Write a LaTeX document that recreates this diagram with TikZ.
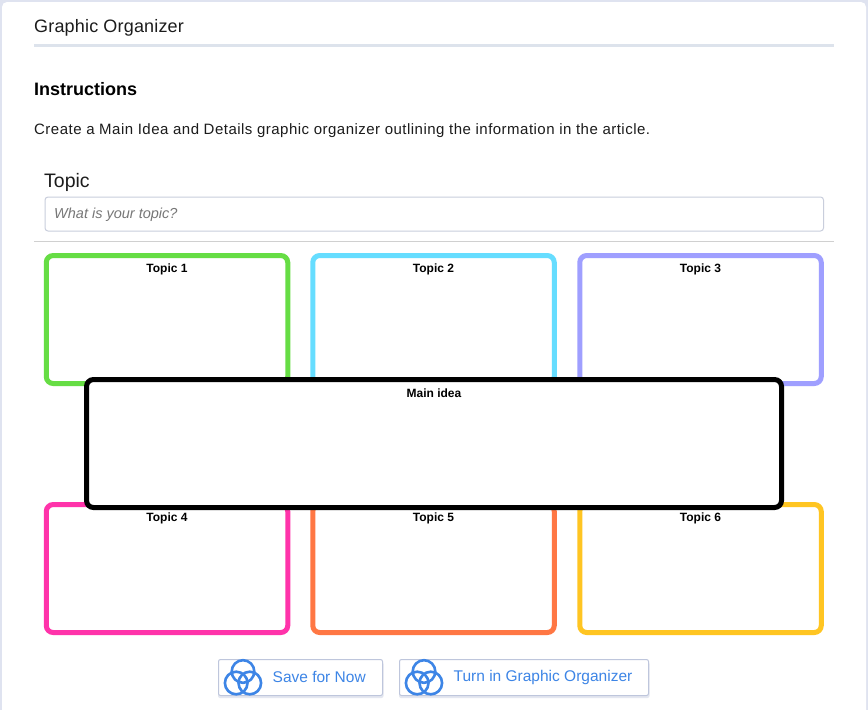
\documentclass[tikz,border=0pt]{standalone}
\usepackage{fontspec}
\setmainfont{Liberation Sans}
\newfontfamily\widerfont[LetterSpace=3.2]{Liberation Sans}
\newfontfamily\titlefont[LetterSpace=1.0]{Liberation Sans}
\usetikzlibrary{positioning}
\definecolor{pageedge}{HTML}{DFE3F0}
\definecolor{headrule}{HTML}{DDE3EC}
\definecolor{fieldedge}{HTML}{C9CEDC}
\definecolor{divider}{HTML}{D0D0D0}
\definecolor{btnblue}{HTML}{3D85E6}
\definecolor{btnedge}{HTML}{BEC6DC}
\definecolor{btnshade}{HTML}{E4E7F0}
\definecolor{hint}{HTML}{777777}
\definecolor{inktext}{HTML}{1C1C1C}
\definecolor{topicA}{HTML}{66DD44}
\definecolor{topicB}{HTML}{66DDFF}
\definecolor{topicC}{HTML}{9F9FFF}
\definecolor{topicD}{HTML}{FF33AA}
\definecolor{topicE}{HTML}{FF7744}
\definecolor{topicF}{HTML}{FFC522}
\tikzset{
  plain/.style={inner sep=0pt,anchor=west,text=inktext},
  topicbox/.style={draw=#1,line width=5pt,fill=white,rounded corners=7pt,
    minimum width=241.5pt,minimum height=128pt},
  boxlabel/.style={inner sep=0pt,font=\fontsize{12}{14}\selectfont\bfseries,text=black},
  btnbox/.style={draw=btnedge,line width=1pt,fill=white,rounded corners=2pt,
    minimum height=36pt},
  btnlabel/.style={inner sep=0pt,anchor=west,text=btnblue,font=\fontsize{15.5}{18}\selectfont},
  ringline/.style={draw=btnblue,line width=2.6pt}
}
\begin{document}
\begin{tikzpicture}[x=1pt,y=-1pt]
\useasboundingbox (0,0) rectangle (868,710);
\fill[pageedge] (0,0) rectangle (868,710);
\fill[white,rounded corners=5pt] (2,2) rectangle (866,730);

% header
\node[plain,font=\fontsize{18}{22}\selectfont\titlefont] (title) at (34,27.5) {Graphic Organizer};
\fill[headrule] (34,44) rectangle (834,47);
\node[plain,font=\fontsize{18}{22}\selectfont\bfseries,text=black] (instr) at (34,89) {Instructions};
\node[plain,font=\fontsize{15}{18}\selectfont\widerfont] (desc) at (34,130.5) {Create a Main Idea and Details graphic organizer outlining the information in the article.};

% topic field
\node[plain,font=\fontsize{19.5}{22}\selectfont] (topichead) at (44,182.5) {Topic};
\node[draw=fieldedge,line width=1pt,fill=white,rounded corners=3pt,minimum width=778.5pt,
  minimum height=34pt,anchor=north west] (field) at (44.5,196.5) {};
\node[plain,font=\fontsize{14.5}{18}\selectfont\itshape,text=hint] (hinttext) at (54,214.5) {What is your topic?};
\fill[divider] (34,241) rectangle (834,242);

% topic boxes
\foreach \name/\col/\cx/\cy in {
  one/topicA/167/319.5,
  two/topicB/433.5/319.5,
  three/topicC/700.5/319.5,
  four/topicD/167/568.5,
  five/topicE/433.5/568.5,
  six/topicF/700.5/568.5} {
  \node[topicbox=\col] (\name) at (\cx,\cy) {};
}
\node[topicbox=black,minimum width=695pt] (main) at (434,443.5) {};
\foreach \name/\txt in {one/Topic 1,two/Topic 2,three/Topic 3,four/Topic 4,five/Topic 5,six/Topic 6,main/Main idea} {
  \node[boxlabel] (\name label) at ([yshift=-16pt]\name.north) {\txt};
}

% buttons
\fill[btnshade,rounded corners=2pt] (218,662) rectangle (383.5,698);
\fill[btnshade,rounded corners=2pt] (399,662) rectangle (649.5,698);
\node[btnbox,minimum width=164pt] (savebtn) at (300.5,677.5) {};
\node[btnbox,minimum width=249pt] (turnbtn) at (524,677.5) {};
\node[btnlabel] (savetext) at (272.5,677) {Save for Now};
\node[btnlabel] (turntext) at (453.5,677) {Turn in Graphic Organizer};
\foreach \dx in {0,181} {
  \draw[ringline] (243+\dx,671.5) circle (11.3);
  \draw[ringline] (236.2+\dx,683) circle (11.3);
  \draw[ringline] (249.8+\dx,683) circle (11.3);
}
\end{tikzpicture}
\end{document}
